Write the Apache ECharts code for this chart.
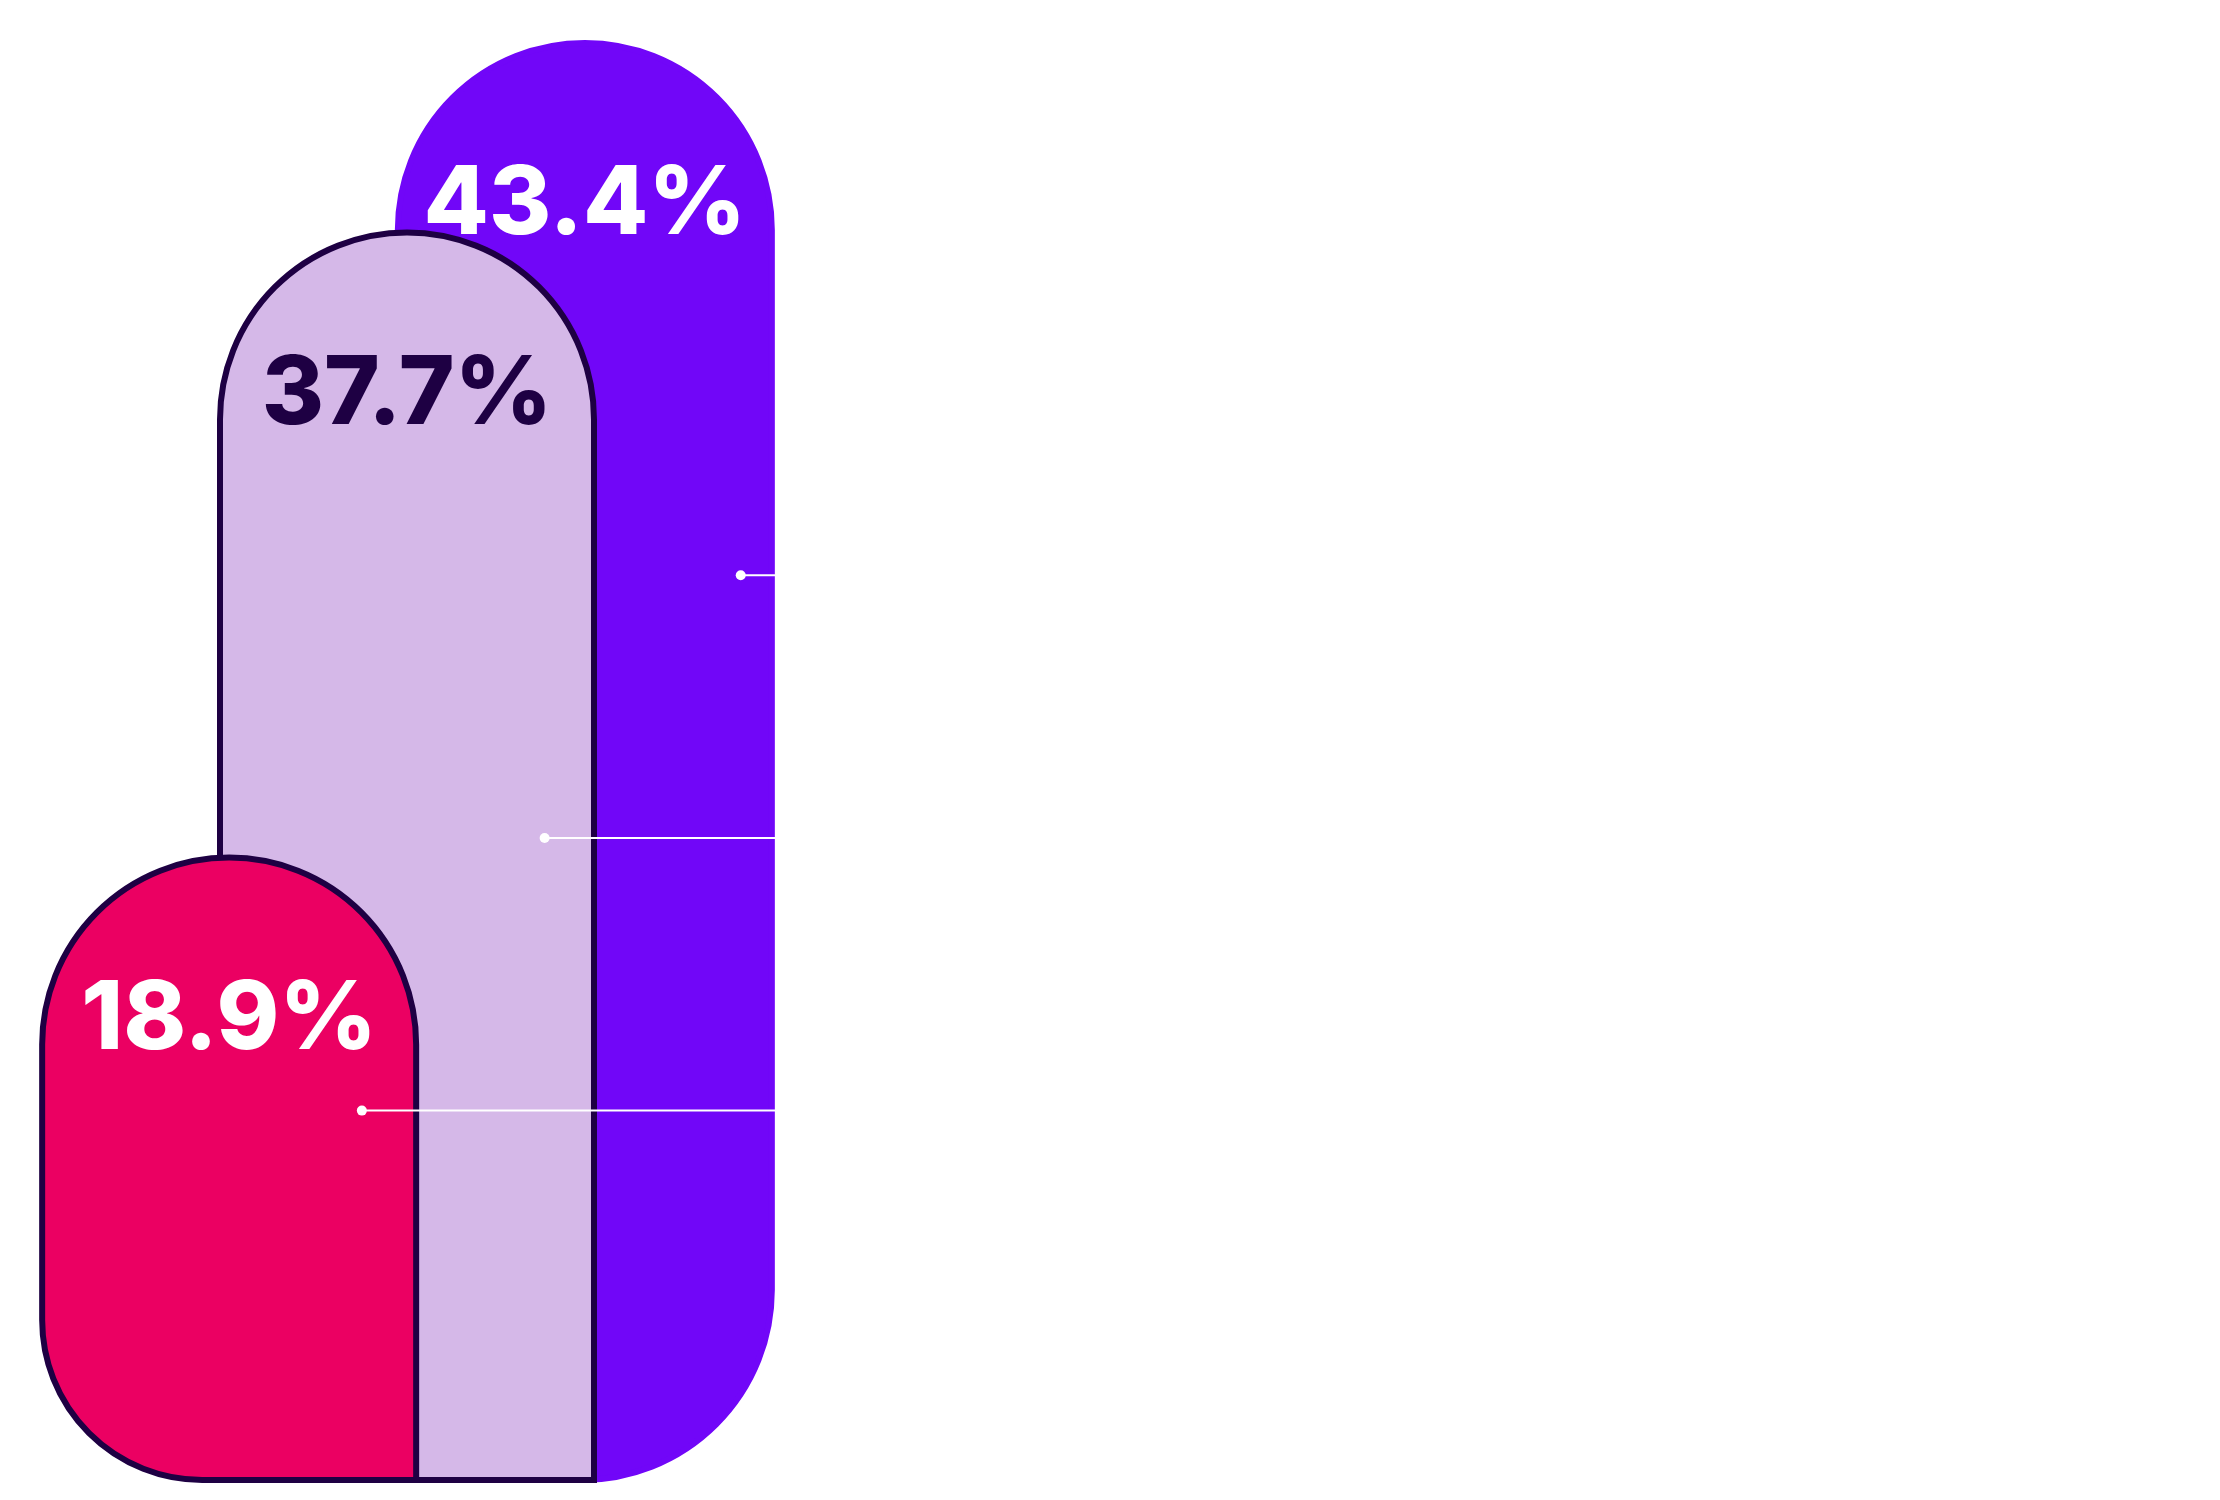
<!DOCTYPE html>
<html>
<head>
<meta charset="utf-8">
<script src="https://cdn.jsdelivr.net/npm/echarts@6/dist/echarts.min.js"></script>
<style>
  html, body { margin: 0; padding: 0; background: #ffffff; }
  #chart { width: 2220px; height: 1500px; }
</style>
</head>
<body>
<div id="chart"></div>
<script>
// data
const categories = [''];
const barNames = ['Segment A', 'Segment B', 'Segment C'];
const barValues = [18.9, 37.7, 43.4];

// leader lines: height on the value axis, start on a hidden 0-100 x scale
const leaderY = [11.2, 19.4, 27.3];
const leaderStartX = [43.9, 68.6, 95.1];
const leaderEndX = [100, 100, 100];

const fills = ['#eb0062', '#d5b8e8', '#7106f8'];
const borders = ['#1e0043', '#1e0043', '#7106f8'];
const labelColors = ['#ffffff', '#1e0043', '#ffffff'];
const radii = [
  [190, 190, 0, 160],
  [190, 190, 0, 0],
  [193, 193, 190, 0]
];

const chart = echarts.init(document.getElementById('chart'));

const barSeries = barNames.map((name, i) => ({
  name: name,
  type: 'bar',
  data: [barValues[i]],
  barWidth: 380,
  barGap: '-53.2%',
  z: 4 - i,
  itemStyle: {
    color: fills[i],
    borderColor: borders[i],
    borderWidth: 6,
    borderRadius: radii[i]
  },
  label: {
    show: true,
    position: 'insideTop',
    distance: 118,
    formatter: '{c}%',
    fontFamily: 'Inter',
    fontWeight: 800,
    fontSize: 95,
    color: labelColors[i]
  }
}));

const leaderSeries = leaderY.map((y, i) => ({
  type: 'line',
  xAxisIndex: 1,
  yAxisIndex: 0,
  z: 10,
  silent: true,
  data: [
    { value: [leaderStartX[i], y], symbol: 'circle', symbolSize: 10 },
    { value: [leaderEndX[i], y], symbol: 'none' }
  ],
  lineStyle: { color: '#ffffff', width: 2 },
  itemStyle: { color: '#ffffff' }
}));

chart.setOption({
  animation: false,
  grid: { left: 37, right: 1443, top: 20, bottom: 17 },
  xAxis: [
    { type: 'category', data: categories, show: false },
    { type: 'value', min: 0, max: 100, show: false }
  ],
  yAxis: { type: 'value', min: 0, max: 44, show: false },
  series: barSeries.concat(leaderSeries)
});
</script>
</body>
</html>
